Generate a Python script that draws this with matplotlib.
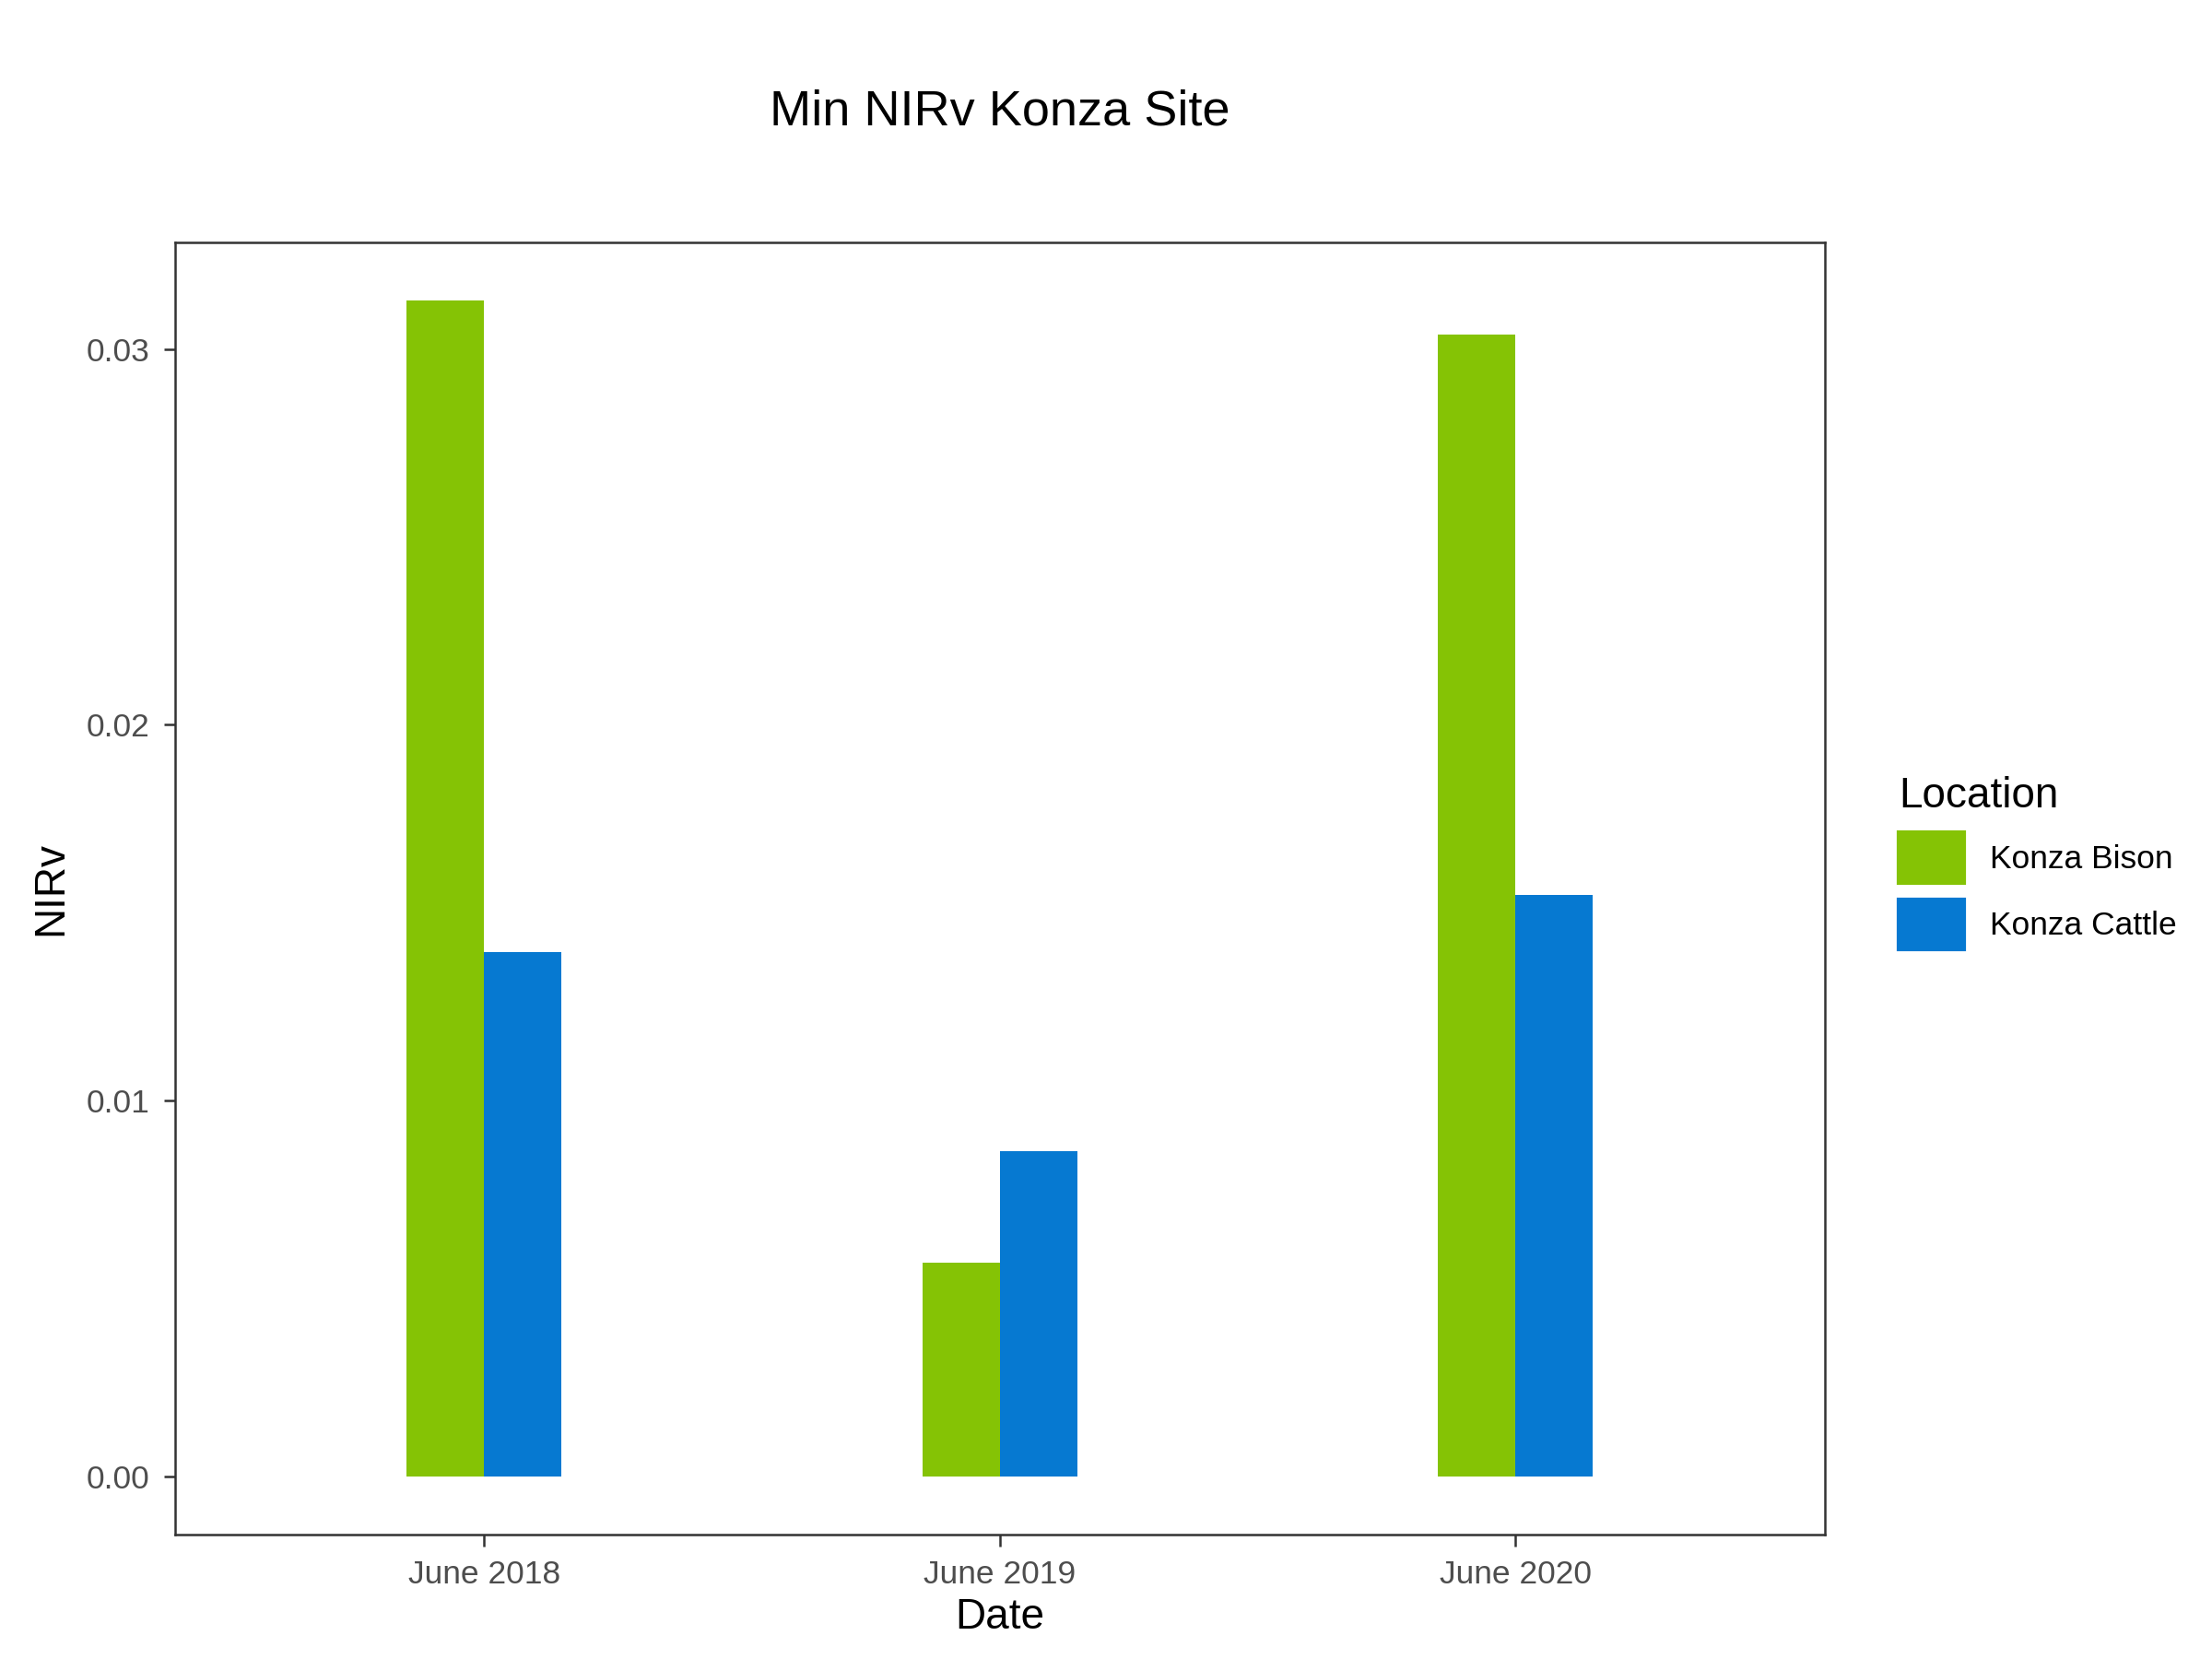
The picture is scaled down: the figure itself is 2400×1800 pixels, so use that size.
import numpy as np
import matplotlib.pyplot as plt
from matplotlib.patches import Patch

dates = ['June 2018', 'June 2019', 'June 2020']
bison = [0.03129, 0.00569, 0.03038]
cattle = [0.01396, 0.00865, 0.01547]
green = '#85C305'
blue = '#0679D1'

plt.rcParams['font.family'] = ['Liberation Sans', 'DejaVu Sans']
fig = plt.figure(figsize=(8, 6), dpi=300)
ax = fig.add_axes([0.079, 0.075, 0.746, 0.779])

x = np.arange(len(dates))
w = 0.15
ax.bar(x - w / 2, bison, w, color=green)
ax.bar(x + w / 2, cattle, w, color=blue)

ax.set_xlim(-0.6, 2.6)
ax.set_ylim(-0.00155, 0.03284)
ax.set_xticks(x)
ax.set_xticklabels(dates)
ax.set_yticks([0, 0.01, 0.02, 0.03])
ax.set_yticklabels(['0.00', '0.01', '0.02', '0.03'])
ax.tick_params(labelsize=8.5, colors='#333333', length=3, width=0.6)
ax.tick_params(labelcolor='#4d4d4d')
for s in ax.spines.values():
    s.set_linewidth(0.6)
    s.set_color('#333333')
ax.set_xlabel('Date', fontsize=11, labelpad=2)
ax.set_ylabel('NIRv', fontsize=11)
fig.text(0.452, 0.925, 'Min NIRv Konza Site', ha='center', fontsize=13)

handles = [Patch(color=green, label='Konza Bison'), Patch(color=blue, label='Konza Cattle')]
leg = fig.legend(handles=handles, title='Location', loc='center left',
                 bbox_to_anchor=(0.845, 0.48), frameon=False, fontsize=8.5,
                 title_fontsize=11, handlelength=2, handleheight=2)
leg._legend_box.align = 'left'

fig.savefig('out.png')
